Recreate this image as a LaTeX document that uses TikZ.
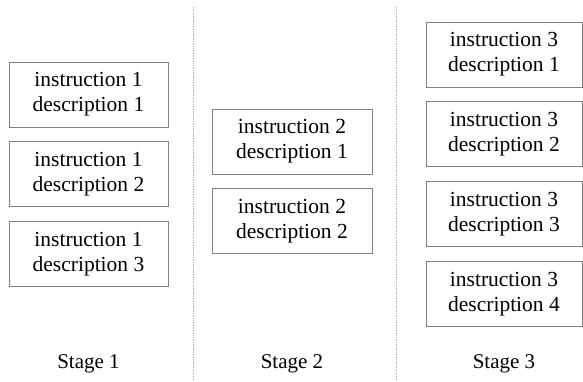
\documentclass[tikz,border=0pt]{standalone}
\usepackage{fontspec}
\setmainfont{Liberation Serif}
\usetikzlibrary{positioning}

\tikzset{
  instrbox/.style={draw=black!50,line width=0.8pt,minimum width=159pt,minimum height=65pt,
    inner sep=0pt,align=center,font=\fontsize{21.5}{25}\selectfont},
  stagelabel/.style={font=\fontsize{21}{25}\selectfont},
  divider/.style={black!30,densely dotted,line width=0.7pt}
}

\begin{document}
\begin{tikzpicture}[x=1pt,y=-1pt]
                \useasboundingbox (0,0) rectangle (583,381);
                % stage separators
                \coordinate (d1top) at (193,7);
                \coordinate (d1bot) at (193,381);
                \coordinate (d2top) at (396,7);
                \coordinate (d2bot) at (396,381);
                \draw[divider] (d1top) -- (d1bot);
                \draw[divider] (d2top) -- (d2bot);
                % stage 1
                \node[instrbox] (s1a) at (88.5,94.5) {instruction 1\\description 1};
                \node[instrbox,below=14pt of s1a] (s1b) {instruction 1\\description 2};
                \node[instrbox,below=14pt of s1b] (s1c) {instruction 1\\description 3};
                % stage 2
                \node[instrbox,minimum width=160pt] (s2a) at (292,141.5) {instruction 2\\description 1};
                \node[instrbox,minimum width=160pt,below=14pt of s2a] (s2b) {instruction 2\\description 2};
                % stage 3
                \node[instrbox,minimum width=156pt] (s3a) at (504,54.5) {instruction 3\\description 1};
                \node[instrbox,minimum width=156pt,below=14pt of s3a] (s3b) {instruction 3\\description 2};
                \node[instrbox,minimum width=156pt,below=14pt of s3b] (s3c) {instruction 3\\description 3};
                \node[instrbox,minimum width=156pt,below=14pt of s3c] (s3d) {instruction 3\\description 4};
                % stage names
                \node[stagelabel] (st1) at (88.5,364) {Stage 1};
                \node[stagelabel] (st2) at (292,364) {Stage 2};
                \node[stagelabel] (st3) at (504,364) {Stage 3};
            \end{tikzpicture}
\end{document}
